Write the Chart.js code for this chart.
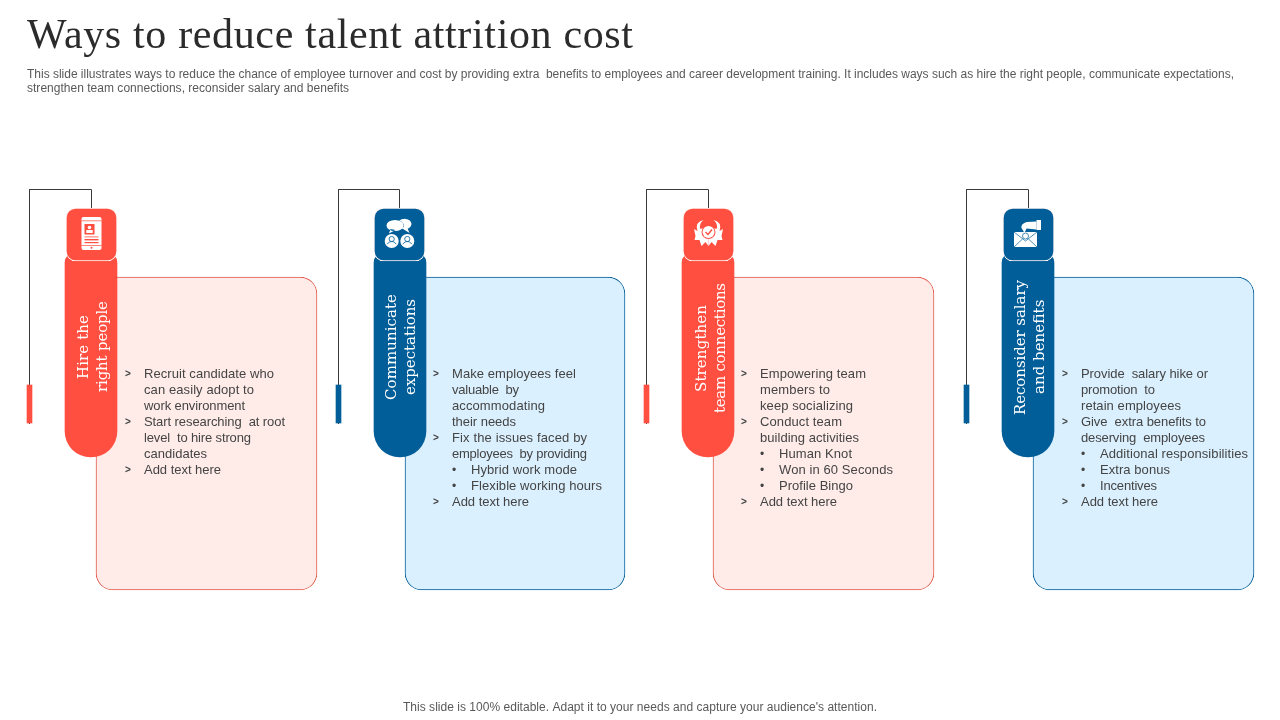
<!DOCTYPE html>
<html>
<head>
<meta charset="utf-8">
<title>Ways to reduce talent attrition cost</title>
<script src="https://cdn.jsdelivr.net/npm/chart.js@4/dist/chart.umd.min.js"></script>
<style>
  html, body { margin: 0; padding: 0; background: #fff; }
  canvas { display: block; }
</style>
</head>
<body>
<canvas id="slide" width="1280" height="720"></canvas>
<script>
const RED = '#FF4F41';
const BLUE = '#025E98';
const SANS = '"Liberation Sans"';
const SERIF = '"Liberation Serif"';
const SLAB = '"DejaVu Serif"';

// lines: [kind, text, right edge]; a = arrow bullet, d = dot sub-bullet
const columns = [
  {
    color: RED, fill: '#FFECE9', border: '#E0584A', icon: 'phone',
    card: [96, 317], pill: [65, 117], square: [66, 117], wire: [29.5, 91.5], tick: 29.5,
    textX: 144,
    heading: [['Hire the', 88, 315, 379], ['right people', 107, 301, 392]],
    lines: [
      ['a', 'Recruit candidate who', 274], ['', 'can easily adopt to', 254], ['', 'work environment', 245],
      ['a', 'Start researching  at root', 285], ['', 'level  to hire strong', 251], ['', 'candidates', 207],
      ['a', 'Add text here', 221]
    ]
  },
  {
    color: BLUE, fill: '#DBF0FE', border: BLUE, icon: 'people',
    card: [405, 625], pill: [374, 426], square: [374, 425], wire: [338.5, 399.5], tick: 338.5,
    textX: 452,
    heading: [['Communicate', 396, 294, 400], ['expectations', 415, 299, 395]],
    lines: [
      ['a', 'Make employees feel', 576], ['', 'valuable  by', 519], ['', 'accommodating', 545], ['', 'their needs', 516],
      ['a', 'Fix the issues faced by', 587], ['', 'employees  by providing', 587],
      ['d', 'Hybrid work mode', 577], ['d', 'Flexible working hours', 602],
      ['a', 'Add text here', 529]
    ]
  },
  {
    color: RED, fill: '#FFECE9', border: '#E0584A', icon: 'badge',
    card: [713, 934], pill: [682, 734], square: [683, 734], wire: [646.5, 708.5], tick: 646.5,
    textX: 760,
    heading: [['Strengthen', 706, 305, 392], ['team connections', 725, 283, 413]],
    lines: [
      ['a', 'Empowering team', 866], ['', 'members to', 830], ['', 'keep socializing', 853],
      ['a', 'Conduct team', 842], ['', 'building activities', 859],
      ['d', 'Human Knot', 852], ['d', 'Won in 60 Seconds', 893], ['d', 'Profile Bingo', 853],
      ['a', 'Add text here', 837]
    ]
  },
  {
    color: BLUE, fill: '#DBF0FE', border: BLUE, icon: 'salary',
    card: [1033, 1254], pill: [1002, 1054], square: [1003, 1054], wire: [966.5, 1028.5], tick: 966.5,
    textX: 1081,
    heading: [['Reconsider salary', 1025, 280, 415], ['and benefits', 1044, 300, 394]],
    lines: [
      ['a', 'Provide  salary hike or', 1208], ['', 'promotion  to', 1155], ['', 'retain employees', 1181],
      ['a', 'Give  extra benefits to', 1206], ['', 'deserving  employees', 1205],
      ['d', 'Additional responsibilities', 1248], ['d', 'Extra bonus', 1170], ['d', 'Incentives', 1157],
      ['a', 'Add text here', 1158]
    ]
  }
];

const mid = (range) => (range[0] + range[1]) / 2;
const span = (range) => range[1] - range[0];

const barDataset = (range, top, bottom, opts) => ({
  type: 'bar',
  data: [{ x: mid(range), y: [top, bottom] }],
  barThickness: span(range),
  grouped: false,
  borderSkipped: false,
  ...opts
});

const datasets = [];
columns.forEach((col) => {
  datasets.push(barDataset(col.card, 277, 590, {
    backgroundColor: col.fill, borderColor: col.border, borderWidth: 1, borderRadius: 17, order: 5
  }));
  datasets.push(barDataset(col.pill, 253, 457, {
    backgroundColor: col.color, borderRadius: { topLeft: 10, topRight: 10, bottomLeft: 26, bottomRight: 26 }, order: 4
  }));
  datasets.push(barDataset(col.square, 208, 261, {
    backgroundColor: col.color, borderColor: '#FFF3F0', borderWidth: 1, borderRadius: 10, order: 3
  }));
  datasets.push({
    type: 'line',
    data: [
      { x: col.wire[1], y: 208 }, { x: col.wire[1], y: 189.5 },
      { x: col.wire[0], y: 189.5 }, { x: col.wire[0], y: 424 }
    ],
    borderColor: '#3A3A3A', borderWidth: 1, pointRadius: 0, tension: 0, order: 6
  });
  datasets.push(barDataset([col.tick - 2.5, col.tick + 2.5], 385, 423, {
    backgroundColor: col.color, order: 2
  }));
});

const fitText = (ctx, text, x, y, right) => {
  ctx.letterSpacing = '0px';
  const natural = ctx.measureText(text).width;
  const extra = (right - x - natural) / Math.max(text.length - 1, 1);
  ctx.letterSpacing = `${extra}px`;
  ctx.fillText(text, x, y);
  ctx.letterSpacing = '0px';
};

const icons = {
  phone(ctx, fg, bg, cx) {
    const x = cx - 10;
    ctx.fillStyle = fg;
    ctx.beginPath();
    ctx.roundRect(x, 217, 20, 33, 2);
    ctx.fill();
    ctx.fillStyle = bg;
    ctx.fillRect(x + 3, 224, 10, 10.5);
    ctx.fillRect(x, 220.5, 20, 0.7);
    ctx.fillRect(x + 3, 236.5, 14, 0.8);
    ctx.fillRect(x + 3, 239, 14, 1.4);
    ctx.fillRect(x + 3, 242, 14, 1.2);
    ctx.fillRect(x, 245, 20, 0.7);
    ctx.beginPath();
    ctx.arc(cx, 247.7, 1, 0, Math.PI * 2);
    ctx.fill();
    ctx.fillStyle = fg;
    ctx.beginPath();
    ctx.arc(x + 8, 227.5, 1.8, 0, Math.PI * 2);
    ctx.fill();
    ctx.fillRect(x + 4.8, 230, 6.4, 3);
  },
  people(ctx, fg, bg, cx) {
    ctx.fillStyle = fg;
    ctx.beginPath();
    ctx.ellipse(cx + 5, 224, 7, 5.2, 0, 0, Math.PI * 2);
    ctx.moveTo(cx + 7, 226);
    ctx.lineTo(cx + 10, 233);
    ctx.lineTo(cx + 2, 228);
    ctx.fill();
    ctx.strokeStyle = bg;
    ctx.lineWidth = 0.8;
    ctx.beginPath();
    ctx.ellipse(cx - 4.5, 225.5, 8.5, 5.5, 0, 0, Math.PI * 2);
    ctx.stroke();
    ctx.beginPath();
    ctx.ellipse(cx - 4.5, 225.5, 8.5, 5.5, 0, 0, Math.PI * 2);
    ctx.moveTo(cx - 9, 229);
    ctx.lineTo(cx - 10.5, 233.5);
    ctx.lineTo(cx - 4, 230);
    ctx.fill();
    [-7.8, 7.8].forEach((dx) => {
      ctx.fillStyle = fg;
      ctx.beginPath();
      ctx.arc(cx + dx, 241, 7, 0, Math.PI * 2);
      ctx.fill();
      ctx.strokeStyle = bg;
      ctx.lineWidth = 0.8;
      ctx.beginPath();
      ctx.arc(cx + dx, 239, 2.6, 0, Math.PI * 2);
      ctx.stroke();
      ctx.beginPath();
      ctx.arc(cx + dx, 246.5, 5, Math.PI * 1.15, Math.PI * 1.85);
      ctx.stroke();
    });
  },
  badge(ctx, fg, bg, cx) {
    const cy = 232;
    ctx.fillStyle = fg;
    // laurel lobes either side of the seal
    [-1, 1].forEach((side) => {
      ctx.beginPath();
      ctx.moveTo(cx + side * 5, 220);
      ctx.quadraticCurveTo(cx + side * 14, 222, cx + side * 11, 231);
      ctx.lineTo(cx + side * 14.5, 229);
      ctx.lineTo(cx + side * 13, 236);
      ctx.lineTo(cx + side * 14, 240);
      ctx.lineTo(cx + side * 9, 240);
      ctx.lineTo(cx + side * 7, 246);
      ctx.lineTo(cx + side * 3, 242);
      ctx.lineTo(cx, 246);
      ctx.lineTo(cx, 226);
      ctx.lineTo(cx + side * 8, 229);
      ctx.quadraticCurveTo(cx + side * 10, 224, cx + side * 5, 220);
      ctx.fill();
    });
    ctx.fillStyle = bg;
    ctx.beginPath();
    ctx.arc(cx, cy, 7, 0, Math.PI * 2);
    ctx.fill();
    ctx.fillStyle = fg;
    ctx.beginPath();
    ctx.arc(cx, cy, 6, 0, Math.PI * 2);
    ctx.fill();
    ctx.strokeStyle = bg;
    ctx.lineWidth = 1.4;
    ctx.beginPath();
    ctx.moveTo(cx - 3, cy);
    ctx.lineTo(cx - 0.5, cy + 2.5);
    ctx.lineTo(cx + 3.5, cy - 2.5);
    ctx.stroke();
  },
  salary(ctx, fg, bg, cx) {
    ctx.fillStyle = fg;
    // hand
    ctx.fillRect(cx + 8, 220, 4.5, 10);
    ctx.beginPath();
    ctx.moveTo(cx + 8, 221.5);
    ctx.lineTo(cx - 2, 222);
    ctx.quadraticCurveTo(cx - 8, 224, cx - 7, 228);
    ctx.lineTo(cx - 4, 233);
    ctx.lineTo(cx - 2, 228.5);
    ctx.lineTo(cx + 8, 229.5);
    ctx.fill();
    // envelope
    ctx.fillRect(cx - 14.5, 232, 23, 15);
    ctx.strokeStyle = bg;
    ctx.lineWidth = 0.7;
    ctx.beginPath();
    ctx.moveTo(cx - 14.5, 232);
    ctx.lineTo(cx - 3, 241);
    ctx.lineTo(cx + 8.5, 232);
    ctx.moveTo(cx - 14.5, 247);
    ctx.lineTo(cx - 6, 239);
    ctx.moveTo(cx + 8.5, 247);
    ctx.lineTo(cx, 239);
    ctx.moveTo(cx, 236);
    ctx.arc(cx - 3, 236, 3, 0, Math.PI * 2);
    ctx.stroke();
  }
};

const slideText = {
  id: 'slideText',
  afterDatasetsDraw(chart) {
    const { ctx, scales } = chart;
    ctx.save();
    ctx.textBaseline = 'alphabetic';
    ctx.textAlign = 'left';

    ctx.fillStyle = '#2B2B2B';
    ctx.font = `42px ${SERIF}`;
    fitText(ctx, 'Ways to reduce talent attrition cost', 27, 48, 633);

    ctx.fillStyle = '#595959';
    ctx.font = `12px ${SANS}`;
    fitText(ctx, 'This slide illustrates ways to reduce the chance of employee turnover and cost by providing extra  benefits to employees and career development training. It includes ways such as hire the right people, communicate expectations,', 27, 78, 1234);
    fitText(ctx, 'strengthen team connections, reconsider salary and benefits', 27, 92, 349);
    fitText(ctx, "This slide is 100% editable. Adapt it to your needs and capture your audience's attention.", 403, 711, 877);

    columns.forEach((col) => {
      const cx = scales.x.getPixelForValue(mid(col.square));
      icons[col.icon](ctx, '#FFFFFF', col.color, cx);

      ctx.fillStyle = '#FFFFFF';
      ctx.font = `15px ${SLAB}`;
      col.heading.forEach(([text, base, top, bottom]) => {
        ctx.save();
        ctx.translate(base, bottom);
        ctx.rotate(-Math.PI / 2);
        fitText(ctx, text, 0, 0, bottom - top);
        ctx.restore();
      });

      ctx.fillStyle = '#444444';
      col.lines.forEach(([kind, text, right], i) => {
        const y = scales.y.getPixelForValue(378 + i * 16);
        const startX = col.textX + (kind === 'd' ? 19 : 0);
        ctx.font = `13px ${SANS}`;
        fitText(ctx, text, startX, y, right);
        if (kind === 'a') {
          ctx.font = `bold 10px ${SANS}`;
          ctx.fillText('>', col.textX - 19, y - 1);
        } else if (kind === 'd') {
          ctx.font = `12px ${SANS}`;
          ctx.fillText('•', col.textX, y);
        }
      });
    });
    ctx.restore();
  }
};

new Chart(document.getElementById('slide'), {
  type: 'bar',
  data: { datasets },
  plugins: [slideText],
  options: {
    responsive: false,
    animation: false,
    events: [],
    layout: { padding: 0 },
    plugins: { legend: { display: false }, tooltip: { enabled: false } },
    scales: {
      x: { type: 'linear', min: 0, max: 1280, offset: false, display: false },
      y: { type: 'linear', min: 0, max: 720, reverse: true, display: false }
    }
  }
});
</script>
</body>
</html>
